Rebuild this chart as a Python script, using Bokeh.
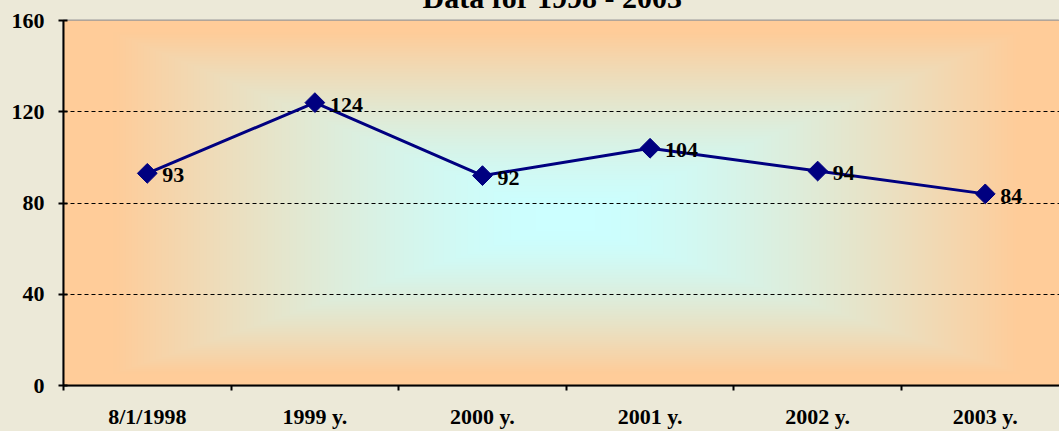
import numpy as np
from bokeh.plotting import figure
from bokeh.models import FixedTicker, Range1d, ColumnDataSource
from bokeh.core.properties import value
from bokeh.embed import file_html
from bokeh.resources import INLINE

categories = ["8/1/1998", "1999 y.", "2000 y.", "2001 y.", "2002 y.", "2003 y."]
values = [93, 124, 92, 104, 94, 84]
y_ticks = [0, 40, 80, 120, 160]
title_text = "Data for 1998 - 2003"

FONT = "Liberation Serif"
BG = "#ECE9D8"
FS = "22px"

xs = [i + 0.5 for i in range(len(categories))]

p = figure(width=1067, height=471, output_backend="svg", toolbar_location=None,
           x_range=Range1d(0, 5.943), y_range=Range1d(0, 160),
           min_border_left=71, min_border_top=60, min_border_bottom=45, min_border_right=0)
p.styles = {"margin-left": "-8px", "margin-top": "-40px"}
p.border_fill_color = BG
p.background_fill_color = "#FFCC99"
p.outline_line_color = "#999999"
p.outline_line_width = 2

p.title.text = title_text
p.title.align = "left"
p.title.offset = 359
p.title.standoff = 13
p.title.text_font = FONT
p.title.text_font_style = "bold"
p.title.text_font_size = "30px"
p.title.text_color = "black"

# rectangular "from center" gradient background (decoration)
W, H = 1005, 366
cx, cy = 502.0, 200.0
yy, xx = np.mgrid[0:H, 0:W]
ax = np.abs(xx + 0.5 - cx)
ay = np.abs(yy + 0.5 - cy)
half_y = np.where(yy + 0.5 < cy, cy, H - cy)
dx = np.clip(ax - 30, 0, None) / (cx - 30 - 50)
dy = np.clip(ay - 12, 0, None) / (half_y - 12 - 12)
t = np.clip(np.maximum(dx, dy), 0, 1) ** 1.4
c0 = np.array([204, 255, 255], dtype=float)
c1 = np.array([255, 204, 153], dtype=float)
rgb = c0[None, None, :] * (1 - t[..., None]) + c1[None, None, :] * t[..., None]
rgb = rgb[::-1]
img = np.zeros((H, W), dtype=np.uint32)
view = img.view(dtype=np.uint8).reshape((H, W, 4))
view[..., 0] = rgb[..., 0].astype(np.uint8)
view[..., 1] = rgb[..., 1].astype(np.uint8)
view[..., 2] = rgb[..., 2].astype(np.uint8)
view[..., 3] = 255
p.image_rgba(image=[img], x=0, y=0, dw=len(categories), dh=160, level="image")

# grid
p.xgrid.visible = False
p.ygrid.ticker = FixedTicker(ticks=[t_ for t_ in y_ticks if 0 < t_ < 160])
p.ygrid.grid_line_color = "black"
p.ygrid.grid_line_dash = "4 3"
p.ygrid.grid_line_width = 1

src = ColumnDataSource(dict(x=xs, y=values, lbl=[str(v) for v in values]))
p.line("x", "y", source=src, line_color="#000080", line_width=3)
p.scatter("x", "y", source=src, marker="square", angle=np.pi / 4, size=14,
          fill_color="#000080", line_color="#000080")
p.text("x", "y", text="lbl", source=src, x_offset=15, y_offset=2,
       text_font=value(FONT), text_font_style="bold", text_font_size=FS,
       text_baseline="middle", text_align="left", text_color="black")

# axes
xa = p.xaxis[0]
xa.ticker = FixedTicker(ticks=xs, minor_ticks=list(range(len(categories) + 1)))
xa.major_label_overrides = {x: c for x, c in zip(xs, categories)}
xa.major_tick_in = 0
xa.major_tick_out = 0
xa.minor_tick_in = 0
xa.minor_tick_out = 5
xa.minor_tick_line_color = "black"
xa.minor_tick_line_width = 2
xa.axis_line_color = "black"
xa.axis_line_width = 2
xa.major_label_standoff = 13
xa.major_label_text_font = FONT
xa.major_label_text_font_style = "bold"
xa.major_label_text_font_size = FS
xa.major_label_text_color = "black"

ya = p.yaxis[0]
ya.ticker = FixedTicker(ticks=y_ticks)
ya.minor_tick_line_color = None
ya.major_tick_in = 4
ya.major_tick_out = 5
ya.major_tick_line_color = "black"
ya.major_tick_line_width = 2
ya.axis_line_color = "black"
ya.axis_line_width = 2
ya.major_label_standoff = 14
ya.major_label_text_font = FONT
ya.major_label_text_font_style = "bold"
ya.major_label_text_font_size = FS
ya.major_label_text_color = "black"

open("out.html", "w").write(file_html(p, INLINE))
